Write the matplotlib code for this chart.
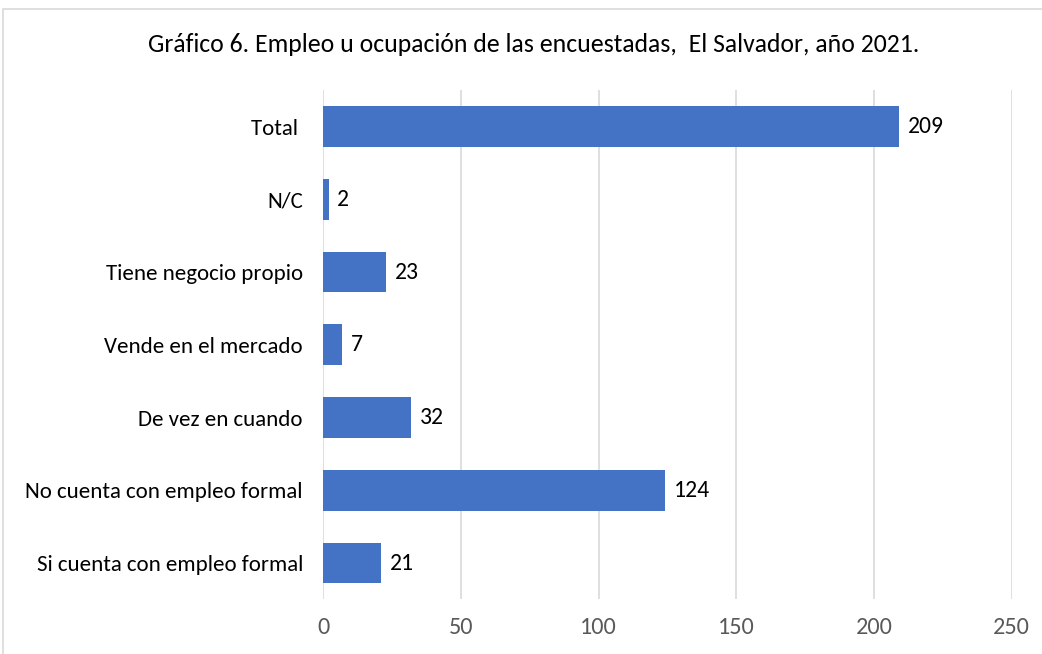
import matplotlib
matplotlib.use("Agg")
import matplotlib.pyplot as plt
from matplotlib.patches import Rectangle

plt.rcParams['font.family'] = ['Carlito', 'Liberation Sans Narrow', 'Liberation Sans', 'DejaVu Sans']

categories = ["Si cuenta con empleo formal", "No cuenta con empleo formal", "De vez en cuando",
              "Vende en el mercado", "Tiene negocio propio", "N/C", "Total "]
values = [21, 124, 32, 7, 23, 2, 209]
xticks = [0, 50, 100, 150, 200, 250]
title = "Gráfico 6. Empleo u ocupación de las encuestadas,  El Salvador, año 2021."

fig = plt.figure(figsize=(10.42, 6.54), dpi=100)
ax = fig.add_axes([0.310, 0.0835, 0.661, 0.7785])

y = range(len(categories))
ax.barh(y, values, height=0.56, color="#4472C4", zorder=3)
for yi, v in zip(y, values):
    ax.text(v + 3.2, yi, str(v), va="center", ha="left", fontsize=17, color="black")

ax.set_xlim(0, 250)
ax.set_ylim(-0.5, len(categories) - 0.5)
ax.set_xticks(xticks)
ax.set_xticklabels([str(t) for t in xticks], fontsize=17.5, color="#595959")
ax.set_yticks(list(y))
ax.set_yticklabels(categories, fontsize=16.5, color="black")
ax.tick_params(axis="both", length=0)
ax.tick_params(axis="x", pad=13)
ax.tick_params(axis="y", pad=14.5)
ax.grid(axis="x", color="#D9D9D9", linewidth=1.2, zorder=0)
for s in ax.spines.values():
    s.set_visible(False)

fig.text(0.512, 0.932, title, ha="center", va="center", fontsize=18.5, color="black")

fig.patches.append(Rectangle((3 / 1042, -0.1), 1.2, 1 - 9 / 654 + 0.1, transform=fig.transFigure,
                             fill=False, edgecolor="#D9D9D9", linewidth=1.2))

fig.savefig("out.png", dpi=100)
